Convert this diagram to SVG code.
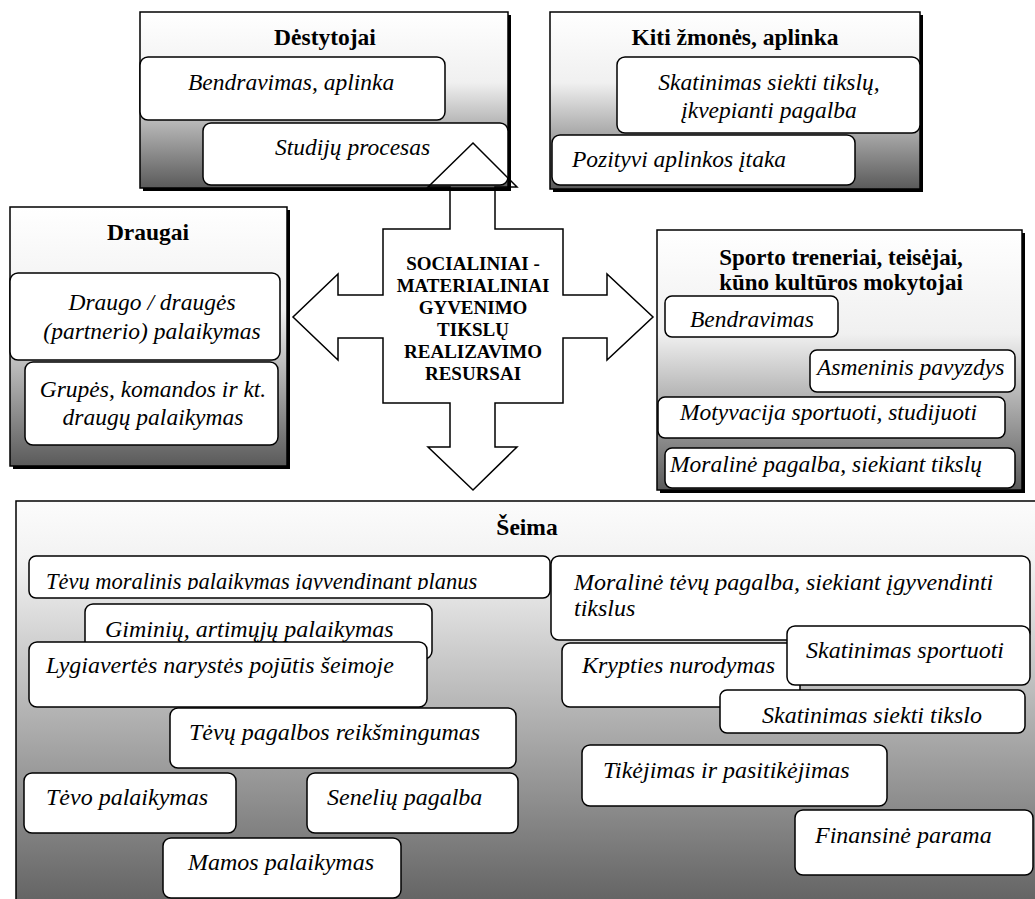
<svg xmlns="http://www.w3.org/2000/svg" width="1035" height="899" viewBox="0 0 1035 899">
<defs>
<linearGradient id="gOuter" x1="0" y1="0" x2="0" y2="1">
<stop offset="0" stop-color="#ffffff"/>
<stop offset="0.4" stop-color="#f0f0f0"/>
<stop offset="1" stop-color="#5a5a5a"/>
</linearGradient>
<linearGradient id="gFam" x1="0" y1="0" x2="0" y2="1">
<stop offset="0" stop-color="#fcfcfc"/>
<stop offset="0.15" stop-color="#f2f2f2"/>
<stop offset="1" stop-color="#626262"/>
</linearGradient>
<clipPath id="clipTevu"><rect x="29" y="556" width="521" height="34"/></clipPath>
<style>
.shadow{fill:#000}
.outer{stroke:#000;stroke-width:1.5}
.item{fill:#fff;stroke:#000;stroke-width:1.5}
.title{font-family:"Liberation Serif","Times New Roman",serif;font-weight:bold;font-size:23.5px;fill:#000}
.title2{font-size:23px}
.ctr{font-family:"Liberation Serif","Times New Roman",serif;font-weight:bold;font-size:19px;fill:#000;text-anchor:middle}
.it{font-family:"Liberation Serif","Times New Roman",serif;font-style:italic;font-size:23.5px;fill:#000}
.fam{font-size:24px}
.small{font-size:22.5px}
.mid{text-anchor:middle}
.arrow{fill:none;stroke:#000;stroke-width:1.5;stroke-linejoin:miter}
</style>
</defs>

<g id="destytojai">
<rect class="shadow" x="143" y="15" width="368" height="176"/>
<rect class="outer" x="140" y="12" width="368" height="176" fill="url(#gOuter)"/>
<text class="title mid" x="325" y="45">Dėstytojai</text>
<rect class="item" x="140" y="57" width="305" height="63" rx="8"/>
<text class="it" x="188" y="90">Bendravimas, aplinka</text>
<rect class="item" x="203" y="123" width="305" height="62" rx="8"/>
<text class="it" x="275" y="155">Studijų procesas</text>
</g>

<g id="kiti">
<rect class="shadow" x="553" y="15" width="370" height="177"/>
<rect class="outer" x="550" y="12" width="370" height="177" fill="url(#gOuter)"/>
<text class="title mid" x="735" y="45">Kiti žmonės, aplinka</text>
<rect class="item" x="617" y="57" width="303" height="76" rx="8"/>
<text class="it mid" x="769" y="90">Skatinimas siekti tikslų,</text>
<text class="it mid" x="769" y="118">įkvepianti pagalba</text>
<rect class="item" x="552" y="135" width="303" height="50" rx="8"/>
<text class="it" x="572" y="167">Pozityvi aplinkos įtaka</text>
</g>

<g id="draugai">
<rect class="shadow" x="13" y="210" width="277" height="259"/>
<rect class="outer" x="10" y="207" width="277" height="259" fill="url(#gOuter)"/>
<text class="title mid" x="148" y="240">Draugai</text>
<rect class="item" x="10" y="273" width="270" height="87" rx="8"/>
<text class="it mid" x="152" y="310">Draugo / draugės</text>
<text class="it mid" x="152" y="339">(partnerio) palaikymas</text>
<rect class="item" x="25" y="362" width="253" height="83" rx="8"/>
<text class="it mid" x="153" y="397">Grupės, komandos ir kt.</text>
<text class="it mid" x="153" y="425">draugų palaikymas</text>
</g>

<g id="sporto">
<rect class="shadow" x="660" y="233" width="365" height="260"/>
<rect class="outer" x="657" y="230" width="365" height="260" fill="url(#gOuter)"/>
<text class="title title2 mid" x="841" y="265">Sporto treneriai, teisėjai,</text>
<text class="title title2 mid" x="841" y="290">kūno kultūros mokytojai</text>
<rect class="item" x="665" y="296" width="173" height="41" rx="7"/>
<text class="it" x="690" y="327">Bendravimas</text>
<rect class="item" x="810" y="350" width="205" height="42" rx="7"/>
<text class="it" x="817" y="375">Asmeninis pavyzdys</text>
<rect class="item" x="658" y="397" width="347" height="41" rx="7"/>
<text class="it" x="680" y="420">Motyvacija sportuoti, studijuoti</text>
<rect class="item" x="665" y="448" width="350" height="40" rx="7"/>
<text class="it" x="670" y="472">Moralinė pagalba, siekiant tikslų</text>
</g>

<g id="seima">
<rect class="shadow" x="19" y="504" width="1030" height="410"/>
<rect class="outer" x="16" y="501" width="1030" height="405" fill="url(#gFam)"/>
<text class="title mid" x="527" y="535">Šeima</text>
<rect class="item" x="29" y="556" width="521" height="42" rx="7"/>
<text class="it small" x="46" y="589" clip-path="url(#clipTevu)">Tėvų moralinis palaikymas įgyvendinant planus</text>
<rect class="item" x="551" y="556" width="479" height="84" rx="8"/>
<text class="it fam" x="574" y="590">Moralinė tėvų pagalba, siekiant įgyvendinti</text>
<text class="it fam" x="574" y="616">tikslus</text>
<rect class="item" x="85" y="604" width="347" height="55" rx="8"/>
<text class="it fam" x="105" y="637">Giminių, artimųjų palaikymas</text>
<rect class="item" x="29" y="642" width="398" height="65" rx="8"/>
<text class="it fam" x="46" y="673">Lygiavertės narystės pojūtis šeimoje</text>
<rect class="item" x="562" y="643" width="238" height="64" rx="8"/>
<text class="it fam" x="582" y="673">Krypties nurodymas</text>
<rect class="item" x="787" y="626" width="243" height="59" rx="8"/>
<text class="it fam" x="806" y="658">Skatinimas sportuoti</text>
<rect class="item" x="720" y="690" width="305" height="43" rx="7"/>
<text class="it fam" x="762" y="723">Skatinimas siekti tikslo</text>
<rect class="item" x="170" y="708" width="346" height="60" rx="8"/>
<text class="it fam" x="189" y="740">Tėvų pagalbos reikšmingumas</text>
<rect class="item" x="24" y="773" width="212" height="60" rx="8"/>
<text class="it fam" x="46" y="805">Tėvo palaikymas</text>
<rect class="item" x="307" y="773" width="211" height="60" rx="8"/>
<text class="it fam" x="327" y="805">Senelių pagalba</text>
<rect class="item" x="163" y="838" width="238" height="60" rx="8"/>
<text class="it fam" x="188" y="870">Mamos palaikymas</text>
<rect class="item" x="582" y="745" width="305" height="61" rx="8"/>
<text class="it fam" x="603" y="778">Tikėjimas ir pasitikėjimas</text>
<rect class="item" x="795" y="810" width="238" height="65" rx="8"/>
<text class="it fam" x="815" y="843">Finansinė parama</text>
</g>

<g id="connectors">
<polygon class="arrow" points="473,143 517,187 495,187 495,229 563,229 563,295 607,295 607,274 653,317 607,360 607,338 563,338 563,403 495,403 495,447 517,447 473,490 428,447 450,447 450,403 383,403 383,338 338,338 338,360 293,317 338,274 338,295 383,295 383,229 450,229 450,187 428,187"/>
</g>

<g id="center">
<text class="ctr" x="473" y="270">SOCIALINIAI -</text>
<text class="ctr" x="473" y="292">MATERIALINIAI</text>
<text class="ctr" x="473" y="314">GYVENIMO</text>
<text class="ctr" x="473" y="336">TIKSLŲ</text>
<text class="ctr" x="473" y="358">REALIZAVIMO</text>
<text class="ctr" x="473" y="380">RESURSAI</text>
</g>
</svg>
